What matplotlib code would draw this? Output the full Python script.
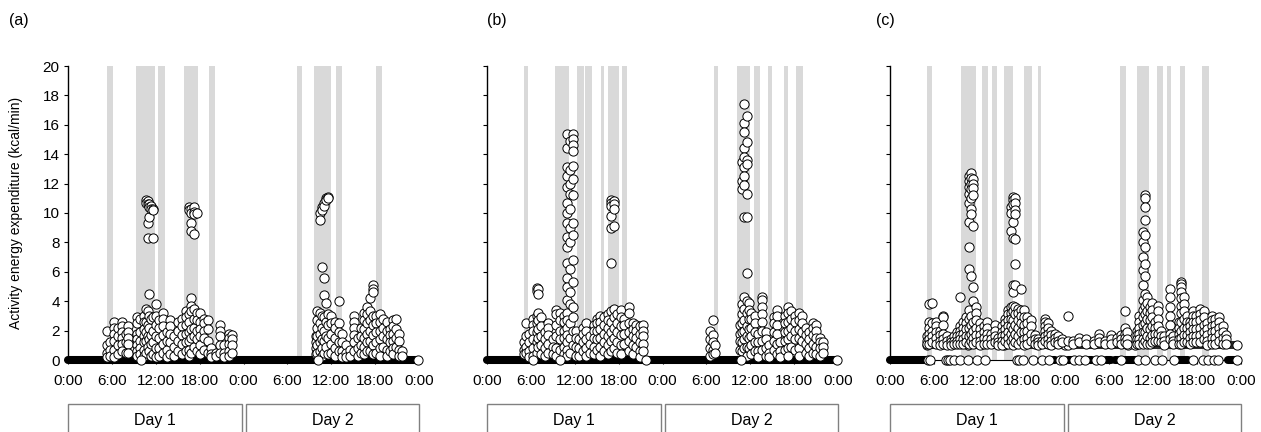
import matplotlib
matplotlib.use("Agg")
import matplotlib.pyplot as plt
from matplotlib.patches import Rectangle

plt.rcParams['font.family'] = ['Liberation Sans', 'DejaVu Sans']

# tick positions (hours from start of day 1) and labels
tick_hours = [0, 6, 12, 18, 24, 30, 36, 42, 48]
tick_labels = ["0:00", "6:00", "12:00", "18:00", "0:00", "6:00", "12:00", "18:00", "0:00"]
day_labels = ["Day 1", "Day 2"]

# ---------- panel (a) ----------
a_bands = [(5.3, 6.2), (9.3, 11.9), (12.3, 13.3), (15.9, 17.8), (19.3, 20.1),
           (31.3, 32.0), (33.7, 36.0), (36.7, 37.5), (42.1, 43.0)]
a_zero_runs = [(0.0, 9.8), (10.3, 47.6)]
a_zero_pts = [10.0, 34.2, 47.9]
a_hours = [5.3, 5.7, 6.3, 6.9, 7.4, 7.9, 8.2, 9.5, 9.9, 10.4, 10.7, 10.9, 11.1, 11.3, 11.6,
           12.0, 12.5, 13.0, 13.5, 14.0, 14.5, 15.1, 15.6, 16.1, 16.5, 16.8, 17.2, 17.6,
           18.1, 18.6, 19.1, 19.6, 20.2, 20.8, 21.3, 22.0, 22.4,
           33.9, 34.1, 34.4, 34.7, 35.0, 35.3, 35.6, 36.0, 36.5, 37.0, 37.5, 38.0, 38.6,
           39.1, 39.6, 40.1, 40.5, 40.9, 41.3, 41.7, 42.1, 42.6, 43.1, 43.6, 44.1, 44.5,
           44.9, 45.3, 45.7]
a_values = [
    [2.0, 1.0, 0.5, 0.2], [1.2, 0.7, 0.3], [2.6, 2.2, 1.8, 1.3, 0.7, 0.2], [2.2, 1.6, 1.0, 0.4],
    [2.6, 2.3, 1.9, 1.5, 1.1, 0.6], [1.8, 1.2, 0.5], [2.3, 1.9, 1.5, 1.1, 0.5],
    [2.9, 2.5, 1.8, 1.4, 1.0, 0.6, 0.3], [2.8, 1.9, 1.3, 0.8, 0.4],
    [3.0, 2.6, 2.1, 1.6, 1.2, 0.7, 0.3], [10.9, 10.7, 3.5, 2.6, 1.9, 1.3, 0.5],
    [10.8, 10.6, 9.3, 8.3, 3.3, 2.4, 1.6, 0.9], [10.6, 10.4, 9.7, 4.5, 3.0, 2.2, 1.4, 0.6],
    [10.5, 10.3, 2.8, 1.7, 1.1, 0.3], [10.3, 10.2, 8.3, 2.9, 2.0, 1.2, 0.4],
    [3.8, 3.0, 2.4, 1.6, 0.8, 0.2], [2.7, 2.2, 1.5, 0.8, 0.3], [3.2, 2.8, 2.3, 1.7, 1.1, 0.5],
    [1.9, 1.3, 0.7, 0.2], [2.7, 2.3, 1.8, 1.2, 0.4], [1.6, 0.9, 0.3], [2.6, 2.0, 1.3, 0.6],
    [2.8, 2.3, 1.7, 1.1, 0.4], [3.3, 2.9, 2.4, 1.8, 1.2, 0.6],
    [10.4, 10.2, 3.1, 2.6, 1.9, 1.3, 0.7, 0.3],
    [10.3, 10.0, 9.3, 8.8, 4.2, 3.7, 3.3, 2.1, 1.5, 0.5],
    [10.4, 10.1, 9.9, 8.6, 3.5, 2.8, 2.2, 1.6, 0.9], [10.0, 3.2, 2.7, 2.0, 1.4, 0.6],
    [3.2, 2.6, 2.1, 1.6, 1.0, 0.4], [2.8, 2.5, 2.0, 1.5, 0.7], [2.7, 2.1, 1.3, 0.5],
    [0.8, 0.4, 0.2], [0.5, 0.3], [2.4, 2.0, 1.6, 1.0, 0.5], [1.0, 0.5, 0.2],
    [1.8, 1.5, 1.1, 0.6, 0.3], [1.7, 1.4, 1.0, 0.5],
    [1.6, 1.2, 0.8, 0.4], [3.3, 2.7, 2.2, 1.6, 1.0, 0.5], [10.0, 9.5, 3.2, 2.5, 1.8, 1.2, 0.6],
    [10.4, 10.2, 6.3, 3.0, 2.2, 1.4, 0.8, 0.3], [10.7, 10.5, 5.6, 4.4, 2.9, 2.0, 1.3, 0.5],
    [11.0, 10.9, 3.9, 2.6, 1.6, 0.9], [11.1, 11.0, 3.1, 2.4, 1.5, 0.4],
    [3.0, 2.5, 1.8, 1.1, 0.5], [2.6, 2.2, 1.5, 0.8, 0.3], [4.0, 2.5, 1.9, 1.2, 0.6],
    [1.8, 1.2, 0.6, 0.2], [1.0, 0.5, 0.2], [0.7, 0.3], [3.0, 2.6, 2.2, 1.7, 1.2, 0.6],
    [1.5, 0.8, 0.3], [2.2, 1.6, 1.0, 0.5], [3.2, 2.7, 2.1, 1.5, 0.9, 0.4],
    [3.6, 3.1, 2.5, 1.8, 1.2, 0.6], [4.2, 3.3, 2.7, 2.0, 1.3, 0.6],
    [5.1, 4.8, 4.6, 3.0, 2.4, 1.7, 1.0, 0.4], [3.0, 2.5, 1.9, 1.2, 0.5],
    [3.1, 2.6, 2.0, 1.4, 0.8, 0.3], [2.8, 2.2, 1.6, 0.9], [2.6, 2.0, 1.4, 0.7, 0.3],
    [2.1, 1.7, 1.2, 0.6], [2.7, 2.3, 1.8, 1.3, 0.8, 0.4], [2.8, 2.1, 1.5, 0.9],
    [1.8, 1.3, 0.7, 0.3], [0.6, 0.3],
]

# ---------- panel (b) ----------
b_bands = [(5.1, 5.6), (9.3, 11.2), (12.3, 13.2), (13.4, 14.4), (15.6, 16.0), (16.5, 18.0),
           (18.5, 19.1), (31.0, 31.6), (34.2, 35.9), (36.5, 37.3), (38.4, 39.0),
           (40.6, 41.2), (42.3, 43.2)]
b_zero_runs = [(0.0, 6.1), (6.5, 9.8), (10.2, 21.5), (21.9, 34.5), (34.9, 47.6)]
b_zero_pts = [6.3, 10.0, 21.7, 34.7, 47.9]
b_hours = [5.0, 5.3, 5.8, 6.3, 6.8, 7.0, 7.4, 7.9, 8.4, 9.0, 9.5, 10.0, 10.5, 10.9, 11.3, 11.7,
           12.2, 12.6, 13.1, 13.6, 14.1, 14.6, 15.0, 15.5, 16.0, 16.5, 16.9, 17.3, 17.8,
           18.3, 18.8, 19.4, 19.9, 20.4, 20.9, 21.3,
           30.5, 30.9, 31.2, 34.6, 34.9, 35.2, 35.5, 35.8, 36.1, 36.6, 37.1, 37.6, 38.1,
           38.6, 39.2, 39.6, 40.1, 40.7, 41.1, 41.6, 42.1, 42.6, 43.1, 43.6, 44.1, 44.6,
           45.0, 45.5, 45.9]
b_values = [
    [1.2, 0.7, 0.4], [2.5, 1.6, 0.9, 0.5], [1.8, 1.2, 0.6, 0.2], [2.8, 2.4, 2.0, 1.4, 0.8, 0.3],
    [4.9, 4.7, 3.0, 2.5, 1.9, 1.2, 0.5], [4.8, 4.5, 3.2, 2.7, 2.1, 1.5, 0.9],
    [2.9, 2.3, 1.6, 1.0, 0.4], [1.9, 1.4, 0.8, 0.3], [2.5, 2.2, 1.7, 1.1, 0.5],
    [1.4, 0.9, 0.4], [3.4, 3.1, 2.4, 1.6, 0.8, 0.3], [3.2, 2.7, 2.0, 1.4, 0.7],
    [3.0, 2.6, 2.0, 1.5, 0.9, 0.4],
    [15.4, 14.4, 13.1, 12.5, 11.8, 10.7, 10.0, 9.3, 8.4, 7.7, 6.6, 5.6, 5.0, 4.1, 3.2, 2.7,
     2.2, 1.7, 1.2, 0.7, 0.3],
    [14.9, 12.9, 12.0, 11.3, 10.3, 9.0, 8.0, 6.2, 4.6, 3.8, 2.5, 1.5, 0.5],
    [15.4, 15.0, 14.6, 14.2, 13.2, 12.3, 11.2, 9.3, 8.5, 6.8, 5.3, 3.6, 2.9, 2.0, 1.0],
    [2.0, 1.5, 0.9, 0.3], [1.4, 0.8, 0.3], [2.2, 1.8, 1.2, 0.6], [2.5, 2.0, 1.4, 0.8, 0.3],
    [1.6, 1.1, 0.5], [2.4, 2.0, 1.5, 0.9, 0.4], [2.8, 2.5, 2.0, 1.4, 0.7],
    [3.0, 2.6, 2.1, 1.5, 0.9, 0.3], [2.9, 2.4, 1.8, 1.2, 0.6], [3.1, 2.7, 2.2, 1.6, 1.0, 0.4],
    [10.9, 10.7, 10.5, 9.8, 9.0, 6.6, 3.3, 2.6, 1.9, 1.3, 0.6],
    [10.8, 10.6, 10.3, 9.1, 3.5, 2.9, 2.2, 1.5, 0.8], [3.1, 2.5, 1.9, 1.2, 0.5],
    [3.4, 2.9, 2.3, 1.7, 1.0, 0.4], [2.8, 2.4, 1.8, 1.1], [3.6, 3.2, 2.5, 1.9, 1.3, 0.6],
    [2.5, 2.1, 1.6, 1.0, 0.4], [2.4, 2.0, 1.5, 0.9], [2.3, 1.8, 1.2, 0.6, 0.2],
    [2.4, 2.0, 1.6, 1.1, 0.6],
    [2.0, 1.4, 0.8, 0.3], [2.7, 1.7, 1.2, 0.7, 0.4], [1.0, 0.5], [2.4, 1.8, 1.3, 0.7],
    [13.5, 12.2, 11.6, 3.8, 3.1, 2.5, 1.9, 1.2, 0.6],
    [17.4, 16.1, 15.5, 14.4, 13.8, 13.1, 12.5, 11.9, 9.7, 4.3, 3.5, 2.7, 2.0, 1.4, 0.8],
    [16.6, 14.8, 13.6, 13.3, 11.3, 9.7, 5.9, 4.0, 3.2, 2.3, 1.6, 0.9, 0.3],
    [3.9, 3.4, 2.8, 2.1, 1.5, 0.8], [3.2, 2.8, 2.2, 1.6, 1.0, 0.4], [3.0, 2.5, 1.9, 1.2, 0.6],
    [1.8, 1.2, 0.6, 0.2], [4.3, 4.1, 3.6, 3.1, 2.6, 2.0, 1.3, 0.7], [1.9, 1.4, 0.8, 0.3],
    [1.0, 0.5, 0.2], [2.9, 2.5, 1.9, 1.3, 0.7], [3.4, 3.0, 2.4, 1.8, 1.1, 0.4],
    [1.2, 0.6, 0.2], [3.0, 2.5, 1.9, 1.3, 0.7], [3.6, 3.2, 2.6, 2.0, 1.4, 0.8, 0.3],
    [3.3, 2.8, 2.2, 1.6, 0.9], [3.0, 2.6, 2.0, 1.4, 0.7], [3.2, 2.7, 2.1, 1.5, 0.8, 0.3],
    [3.0, 2.5, 1.9, 1.3], [2.2, 1.7, 1.1, 0.5], [1.9, 1.4, 0.8, 0.3],
    [2.5, 2.2, 1.7, 1.1, 0.5], [2.4, 2.0, 1.5, 0.9, 0.4], [1.5, 1.2, 0.8, 0.3],
    [1.2, 0.9, 0.5],
]

# ---------- panel (c) ----------
c_bands = [(5.1, 5.7), (9.7, 11.8), (12.6, 13.4), (14.0, 14.6), (15.6, 16.8), (18.3, 19.4),
           (20.2, 20.7), (31.5, 32.3), (33.8, 35.4), (36.5, 37.3), (37.9, 38.4),
           (39.7, 40.3), (42.7, 43.6)]
c_zero_runs = [(0.0, 5.0), (22.0, 22.5), (24.4, 24.9), (27.0, 27.6), (29.5, 30.2),
               (30.8, 31.3), (32.0, 33.6), (39.0, 40.8), (46.2, 47.4)]
c_zero_pts = [5.2, 5.5, 7.6, 7.9, 8.2, 8.7, 9.6, 10.7, 11.9, 13.0, 17.3, 17.6, 18.2, 19.6,
              20.8, 21.8, 23.2, 23.7, 25.2, 25.9, 26.7, 28.2, 28.9, 31.6, 33.9, 34.9, 36.2,
              37.2, 38.8, 41.5, 42.8, 43.5, 44.3, 44.8, 47.5]
c_floor = 1.0
c_floor_runs = [(5.1, 23.8), (24.6, 32.4), (33.7, 47.3)]
c_floor_pts = [5.0, 10.6, 15.6, 23.9, 24.3, 32.6, 33.5, 47.5]
c_hours = [5.1, 5.4, 5.8, 6.3, 6.8, 7.3, 7.8, 8.3, 8.8, 9.2, 9.6, 10.0, 10.4, 10.8, 11.1, 11.4,
           11.8, 12.3, 12.8, 13.3, 13.8, 14.3, 14.8, 15.3, 15.7, 16.1, 16.5, 16.8, 17.1,
           17.5, 17.9, 18.3, 18.8, 19.3, 19.8, 20.3, 20.8, 21.2, 21.6, 22.0, 22.5, 23.0,
           23.5, 24.3, 25.0, 25.8, 26.8, 27.9, 28.6, 29.4, 30.2, 31.0, 31.6, 32.1, 32.4,
           33.8, 34.1, 34.6, 34.9, 35.2, 35.5, 35.8, 36.2, 36.6, 37.0, 37.5, 38.3, 38.7,
           39.5, 39.8, 40.2, 40.6, 41.0, 41.5, 41.9, 42.4, 42.9, 43.4, 44.0, 44.5, 45.0,
           45.5, 46.0]
c_values = [
    [1.6, 1.3, 1.1], [3.8, 2.6, 2.2, 1.8, 1.4, 1.1], [3.9, 2.5, 2.0, 1.6, 1.2],
    [2.6, 2.3, 1.9, 1.5, 1.1], [2.0, 1.7, 1.3, 1.0], [3.0, 2.9, 2.4, 1.8, 1.4, 1.1],
    [1.6, 1.3, 1.0], [1.4, 1.2, 1.0], [1.6, 1.3, 1.1], [1.9, 1.6, 1.3, 1.1],
    [4.3, 2.3, 2.0, 1.7, 1.4, 1.1], [2.6, 2.2, 1.8, 1.4, 1.1], [2.9, 2.5, 2.1, 1.6, 1.2],
    [12.5, 12.2, 11.8, 11.3, 10.7, 9.4, 7.7, 6.2, 3.4, 2.8, 2.2, 1.6, 1.1],
    [12.7, 12.4, 12.0, 11.6, 11.0, 10.3, 9.9, 5.7, 3.0, 2.4, 1.8, 1.3],
    [12.3, 12.0, 11.7, 11.2, 9.1, 5.0, 4.0, 2.6, 2.0, 1.5, 1.1],
    [3.6, 3.2, 2.7, 2.2, 1.7, 1.2], [2.5, 2.1, 1.7, 1.3, 1.0], [2.3, 1.9, 1.5, 1.1],
    [2.6, 2.2, 1.8, 1.4, 1.1], [1.8, 1.4, 1.1], [2.4, 2.0, 1.6, 1.2], [1.5, 1.2, 1.0],
    [2.3, 1.9, 1.6, 1.3, 1.0], [2.8, 2.5, 2.1, 1.7, 1.3], [3.4, 3.1, 2.7, 2.3, 1.9, 1.5, 1.1],
    [10.4, 10.0, 8.8, 3.6, 3.2, 2.8, 2.3, 1.8, 1.3],
    [11.1, 10.9, 10.6, 9.4, 8.3, 5.1, 4.6, 3.7, 3.3, 2.7, 2.1, 1.5, 1.0],
    [11.0, 10.7, 10.2, 9.9, 8.2, 6.5, 5.1, 3.6, 3.1, 2.4, 1.8, 1.2],
    [3.5, 3.2, 2.7, 2.2, 1.6, 1.1], [4.8, 3.4, 3.0, 2.5, 1.9, 1.3],
    [3.4, 2.9, 2.4, 1.9, 1.4, 1.0], [2.9, 2.5, 2.0, 1.5, 1.1], [2.7, 2.3, 1.8, 1.3],
    [1.7, 1.4, 1.1], [1.4, 1.2, 1.0], [1.3, 1.1], [2.8, 2.6, 2.3, 2.0, 1.6, 1.3],
    [2.5, 2.2, 1.8, 1.4, 1.1], [2.0, 1.7, 1.3, 1.0], [1.8, 1.5, 1.2], [1.6, 1.3, 1.1],
    [1.4, 1.2], [3.0, 1.3], [1.3, 1.1], [1.5, 1.2], [1.4, 1.1], [1.3, 1.1], [1.8, 1.5, 1.2],
    [1.3, 1.1], [1.7, 1.4, 1.1], [1.5, 1.2], [1.7, 1.4, 1.1], [3.3, 2.2, 1.8, 1.5, 1.2],
    [1.9, 1.4, 1.1],
    [2.0, 1.7, 1.4, 1.1], [3.0, 2.6, 2.2, 1.8, 1.4, 1.1],
    [8.7, 8.0, 7.0, 6.1, 5.1, 4.1, 3.4, 2.9, 2.4, 1.9, 1.4, 1.1],
    [11.2, 11.0, 10.4, 9.5, 8.5, 7.7, 6.5, 5.7, 4.5, 3.7, 3.1, 2.5, 1.9, 1.3],
    [4.3, 3.9, 3.3, 2.8, 2.2, 1.6, 1.1], [3.6, 3.2, 2.7, 2.1, 1.5, 1.1],
    [3.9, 3.4, 2.9, 2.3, 1.7, 1.2], [2.6, 2.2, 1.8, 1.3], [3.7, 3.3, 2.8, 2.3, 1.8, 1.3],
    [2.0, 1.6, 1.2], [1.6, 1.3, 1.0], [4.8, 4.3, 3.6, 3.0, 2.4, 1.8, 1.4], [1.6, 1.3, 1.1],
    [2.6, 2.2, 1.8, 1.4, 1.1], [5.3, 5.2, 5.0, 4.6, 4.2, 3.7, 3.2, 2.6, 2.0, 1.5, 1.1],
    [4.3, 3.8, 3.3, 2.8, 2.2, 1.7, 1.2], [3.0, 2.6, 2.2, 1.7, 1.2], [2.6, 2.3, 1.9, 1.5, 1.1],
    [3.3, 3.0, 2.6, 2.1, 1.6, 1.2], [3.0, 2.6, 2.1, 1.6, 1.2], [3.5, 3.1, 2.7, 2.2, 1.7, 1.2],
    [3.3, 2.9, 2.4, 1.9, 1.4], [2.5, 2.1, 1.7, 1.3, 1.0], [3.0, 2.7, 2.3, 1.9, 1.5, 1.1],
    [2.8, 2.4, 2.0, 1.5, 1.1], [2.9, 2.6, 2.2, 1.8, 1.3], [2.3, 1.9, 1.5, 1.1],
    [1.7, 1.4, 1.1],
]

W, H = 1261, 432
fig = plt.figure(figsize=(W / 100, H / 100), dpi=100)

panels = [
    ("(a)", 68, 9, a_bands, a_zero_runs, a_zero_pts, a_hours, a_values, None, None, None),
    ("(b)", 487, 487, b_bands, b_zero_runs, b_zero_pts, b_hours, b_values, None, None, None),
    ("(c)", 890, 876, c_bands, c_zero_runs, c_zero_pts, c_hours, c_values,
     c_floor_runs, c_floor_pts, c_floor),
]

MS = 44  # marker area

for i, (tag, left, tag_x, bands, zruns, zpts, hours, values, fruns, fpts, flevel) in enumerate(panels):
    ax = fig.add_axes([left / W, 72 / H, 351 / W, 294 / H])
    for s, e in bands:
        ax.axvspan(s, e, color="#d9d9d9", lw=0, zorder=0)

    for s, e in zruns:
        ax.plot([s, e], [0, 0], color="black", lw=5.8, solid_capstyle="round",
                zorder=2, clip_on=False)
    if fruns:
        for s, e in fruns:
            ax.plot([s, e], [flevel, flevel], color="#2b2b2b", lw=5.8,
                    solid_capstyle="round", zorder=2, clip_on=False)
        ax.scatter(fpts, [flevel] * len(fpts), s=MS, facecolor="white",
                   edgecolor="black", lw=0.7, zorder=3, clip_on=False)

    xs, ys = [], []
    for h, vals in zip(hours, values):
        for v in vals:
            xs.append(h)
            ys.append(v)
    ax.scatter(xs, ys, s=MS, facecolor="white", edgecolor="black", lw=0.7,
               zorder=3, clip_on=False)
    ax.scatter(zpts, [0] * len(zpts), s=MS, facecolor="white", edgecolor="black",
               lw=0.7, zorder=4, clip_on=False)

    ax.set_xlim(0, 48)
    ax.set_ylim(0, 20)
    ax.set_yticks(range(0, 21, 2))
    ax.set_xticks(tick_hours)
    ax.set_xticklabels(tick_labels)
    ax.tick_params(axis="x", direction="out", length=3, width=0.8, pad=7, labelsize=11)
    ax.tick_params(axis="y", direction="out", length=3, width=0.8, pad=3, labelsize=11)
    if i > 0:
        ax.tick_params(axis="y", labelleft=False)
    else:
        ax.set_ylabel("Activity energy expenditure (kcal/min)", fontsize=10)
        ax.yaxis.set_label_coords(-0.128, 0.5)
    for side in ("top", "right"):
        ax.spines[side].set_visible(False)
    ax.spines["left"].set_linewidth(1.0)
    ax.spines["bottom"].set_linewidth(0.8)

    # day boxes under the axis
    for k, lab in enumerate(day_labels):
        x0 = 0.0 if k == 0 else 0.507
        x1 = 0.497 if k == 0 else 1.0
        ax.add_patch(Rectangle((x0, -0.40), x1 - x0, 0.25, transform=ax.transAxes,
                               fill=False, edgecolor="#808080", lw=1.0, clip_on=False))
        ax.text((x0 + x1) / 2, -0.207, lab, transform=ax.transAxes, ha="center",
                va="center", fontsize=11.5)

    fig.text(tag_x / W, 1 - 20 / H, tag, ha="left", va="center", fontsize=11.5)

fig.savefig("out.png", dpi=100)
